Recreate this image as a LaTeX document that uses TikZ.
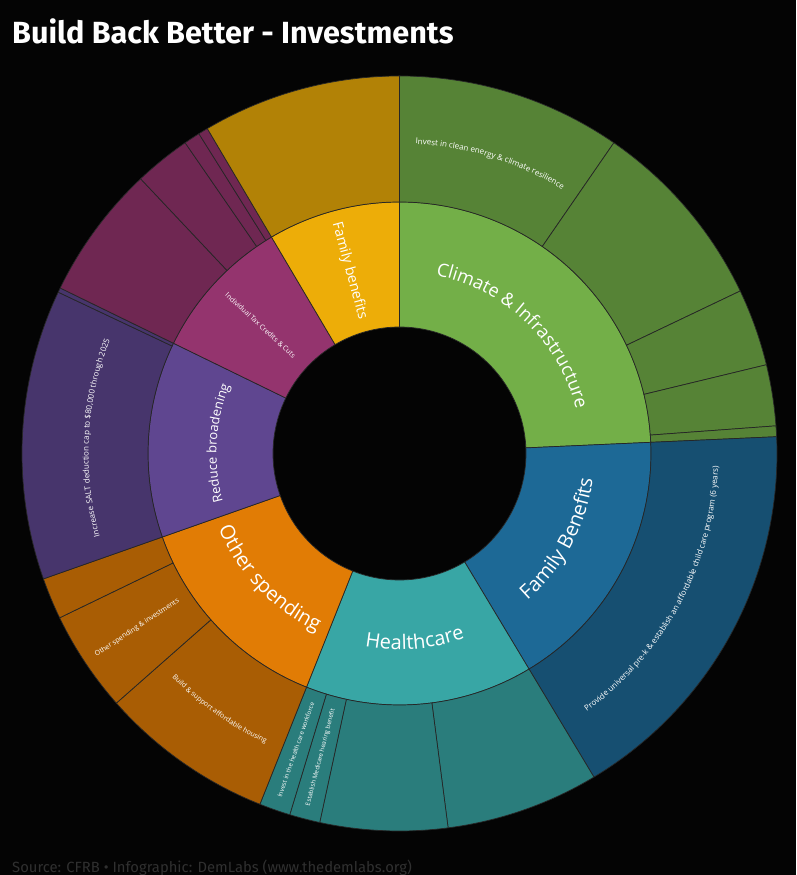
\documentclass[tikz,border=0pt]{standalone}
\usepackage{fontspec}
\usetikzlibrary{decorations.text}
\setmainfont{Open Sans}
\newfontfamily\titlefont{Fira Sans}
\definecolor{bgBlack}{RGB}{4,4,4}
\definecolor{climateGreen}{HTML}{73AF48}
\definecolor{familyBlue}{HTML}{1D6996}
\definecolor{healthTeal}{HTML}{38A6A5}
\definecolor{otherOrange}{HTML}{E17C05}
\definecolor{reducePurple}{HTML}{5F4690}
\definecolor{taxMagenta}{HTML}{94346E}
\definecolor{benefitYellow}{HTML}{EDAD08}
\definecolor{sourceGray}{RGB}{48,48,48}
\newcommand{\ringseg}[5]{\draw[seg, fill=#1] (#2:#4) arc [start angle=#2, end angle=#3, radius=#4] -- (#3:#5) arc [start angle=#3, end angle=#2, radius=#5] -- cycle;}
\newcommand{\arclabel}[5]{\path[decorate, decoration={text along path, text align=center, text color=white, text={|\fontsize{#4}{#4}\selectfont|#5}}] (#1:#3) arc [start angle=#1, end angle=#2, radius=#3];}
\tikzset{
	seg/.style={draw=black!85, line width=0.7pt, line join=round},
	ringlabel/.style={text=white, inner sep=0pt, font=\fontsize{#1}{#1}\selectfont}
}
\begin{document}
\begin{tikzpicture}[x=1pt, y=1pt]
	\fill[bgBlack] (-399.5,-421.5) rectangle (396.5,453.5);
	\useasboundingbox (-399.5,-421.5) rectangle (396.5,453.5);
	\foreach \col/\from/\to in {climateGreen/90/2.55, familyBlue/2.55/-59, healthTeal/-59/-111.7, otherOrange/-111.7/-160.6, reducePurple/-160.6/-206, taxMagenta/-206/-239.4, benefitYellow/-239.4/-270}
		\ringseg{\col}{\from}{\to}{126.5}{251.5};
	\foreach \col/\from/\to in {climateGreen/90/55.4, climateGreen/55.4/25.5, climateGreen/25.5/13.6, climateGreen/13.6/4.2, climateGreen/4.2/2.55,
		familyBlue/2.55/-59,
		healthTeal/-59/-82.6, healthTeal/-82.6/-102.2, healthTeal/-102.2/-106.9, healthTeal/-106.9/-111.7,
		otherOrange/-111.7/-138.6, otherOrange/-138.6/-154.2, otherOrange/-154.2/-160.6,
		reducePurple/-160.6/-205.3, reducePurple/-205.3/-206,
		taxMagenta/-206/-226.7, taxMagenta/-226.7/-235.4, taxMagenta/-235.4/-237.9, taxMagenta/-237.9/-239.4,
		benefitYellow/-239.4/-270}
		\ringseg{\col!75!black}{\from}{\to}{251.5}{377.5};
	\arclabel{90}{2.55}{182}{18.2}{Climate {\&} Infrastructure}
	\arclabel{-59}{2.55}{195}{20}{Family Benefits}
	\arclabel{-111.7}{-59}{196}{20}{Healthcare}
	\arclabel{-160.6}{-111.7}{196}{20}{Other spending}
	\arclabel{199.4}{154}{183}{13}{Reduce broadening}
	\arclabel{90}{55.4}{310}{8}{Invest in clean energy {\&} climate resilience}
	\arclabel{199.4}{154.7}{311}{8}{Increase SALT deduction cap to {\$}80,000 through 2025}
	\arclabel{-59}{2.55}{319}{8}{Provide universal pre-k {\&} establish an affordable child care program (6 years)}
	\arclabel{-138.6}{-111.7}{319}{7}{Build {\&} support affordable housing}
	\node[ringlabel=7, rotate=-42.7] (tax) at (137.3:189) {Individual Tax Credits \& Cuts};
	\node[ringlabel=14.2, rotate=-74.7] (benefits) at (105.3:189.5) {Family benefits};
	\node[ringlabel=7, rotate=33.6] (spendinv) at (-146.4:315) {Other spending \& investments};
	\node[ringlabel=6.2, rotate=70.7] (workforce) at (-109.3:314) {Invest in the health care workforce};
	\node[ringlabel=6.2, rotate=75.45] (hearing) at (-104.55:314) {Establish Medicare hearing benefit};
	\node[text=white, anchor=west, inner sep=0pt, font=\titlefont\bfseries\fontsize{30.6}{30.6}\selectfont] (title) at (-387.5,422.5) {Build Back Better - Investments};
	\node[text=sourceGray, anchor=base west, inner sep=0pt, font=\titlefont\fontsize{14.8}{14.8}\selectfont] (source) at (-387.5,-419) {Source: CFRB • Infographic: DemLabs (www.thedemlabs.org)};
\end{tikzpicture}
\end{document}
